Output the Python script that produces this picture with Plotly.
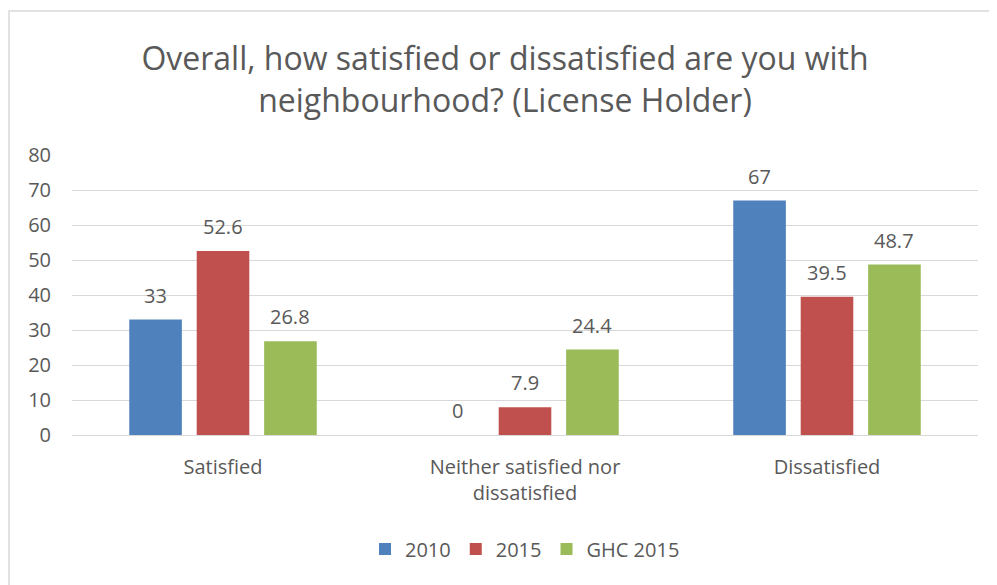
import plotly.graph_objects as go

categories = ["Satisfied", "Neither satisfied nor<br>dissatisfied", "Dissatisfied"]
series_names = ["2010", "2015", "GHC 2015"]
values_2010 = [33, 0, 67]
values_2015 = [52.6, 7.9, 39.5]
values_ghc_2015 = [26.8, 24.4, 48.7]
y_ticks = [0, 10, 20, 30, 40, 50, 60, 70, 80]

colors = ["#4F81BD", "#C0504D", "#9BBB59"]
text_color = "#595959"
font_family = "Open Sans"

all_values = [values_2010, values_2015, values_ghc_2015]

fig = go.Figure()
for name, vals, color in zip(series_names, all_values, colors):
    fig.add_trace(go.Bar(
        x=categories, y=vals, name=name,
        marker=dict(color=color, line=dict(width=0)),
    ))

# page body has an 8px margin, so figure coords = page coords - 8
# plot area in figure coords: x 64..970, y 147..427
plot_w = 906
bargap, bargroupgap = 0.33, 0.22
slot = plot_w / len(categories) * (1 - bargap) / len(series_names)

# data labels above each bar (shifted to the bar's slot within the group)
for i, vals in enumerate(all_values):
    for cat, v in zip(categories, vals):
        fig.add_annotation(x=cat, y=v, text=f"{v:g}", showarrow=False,
                           xshift=(i - 1) * slot, yshift=9, yanchor="bottom",
                           font=dict(size=20, color=text_color, family=font_family))

fig.update_layout(
    width=997, height=585,
    margin=dict(l=64, r=27, t=147, b=158),
    paper_bgcolor="white", plot_bgcolor="white",
    font=dict(family=font_family, color=text_color, size=20),
    title=dict(
        text="Overall, how satisfied or dissatisfied are you with<br>neighbourhood? (License Holder)",
        x=(505 - 8) / 997, xanchor="center", y=1 - 62 / 585, yanchor="middle",
        font=dict(size=32, color=text_color, family=font_family),
    ),
    barmode="group", bargap=bargap, bargroupgap=bargroupgap,
    showlegend=True,
    legend=dict(
        orientation="h", x=0.5, xanchor="center", y=-0.407, yanchor="middle",
        font=dict(size=20, color=text_color), traceorder="normal",
    ),
)
fig.update_yaxes(
    range=[0, 80], tickvals=y_ticks, showgrid=True, gridcolor="#D9D9D9", gridwidth=1.2,
    zeroline=False, showline=False, ticks="", tickfont=dict(size=20, color=text_color),
    ticklabelstandoff=20,
)
fig.update_xaxes(
    showline=True, linecolor="#D9D9D9", linewidth=1.2, ticks="",
    tickfont=dict(size=20, color=text_color), ticklabelstandoff=14,
)
# chart border (only left and top are visible in the frame)
fig.add_shape(type="rect", xref="paper", yref="paper",
              x0=(1 - 64) / 906, x1=(1010 - 64) / 906,
              y0=(427 - 600) / 280, y1=1 + (147 - 3) / 280,
              line=dict(color="#D9D9D9", width=1.5), fillcolor="rgba(0,0,0,0)", layer="below")

fig.write_html("out.html")
